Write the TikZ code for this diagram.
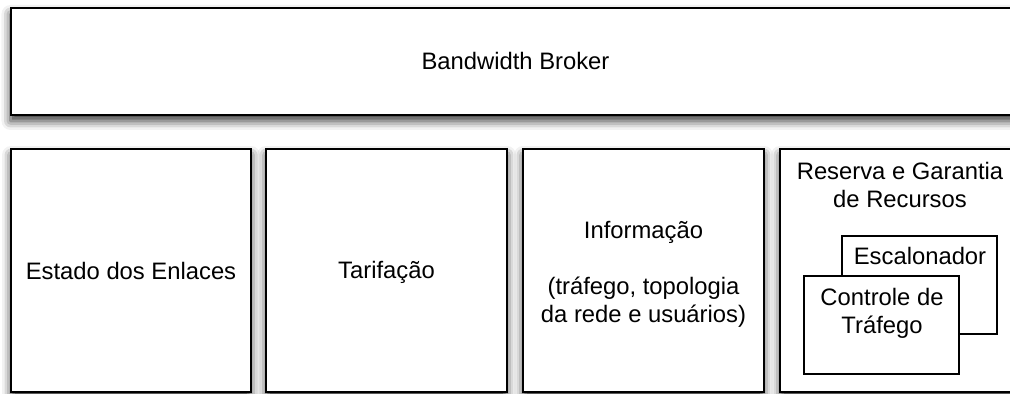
\documentclass[tikz,border=0pt]{standalone}
\usepackage{fontspec}
\setmainfont{Liberation Sans}
\usetikzlibrary{shadows.blur}
\begin{document}
\begin{tikzpicture}[x=0.5pt,y=-0.5pt,
  every node/.style={font=\fontsize{11.9}{14}\selectfont, align=center, inner sep=0pt},
  shbox/.style={draw=black, line width=1pt, fill=white,
    blur shadow={shadow xshift=0pt, shadow yshift=-3pt, shadow blur radius=4.5pt, shadow opacity=80}},
  inbox/.style={draw=black, line width=1pt, fill=white, minimum width=77.5pt, minimum height=49pt},
  txt/.style={}]
\useasboundingbox (0,0) rectangle (1010,394);
\begin{scope}
\clip (0,0) rectangle (1010,394);
\node[shbox, minimum width=505pt, minimum height=53.5pt] (bb) at (515.5,61.5) {Bandwidth Broker};
\node[shbox, minimum width=120pt, minimum height=121.5pt] (est) at (131,270.5) {Estado dos Enlaces};
\node[shbox, minimum width=120.5pt, minimum height=121.5pt] (tar) at (386.5,270.5) {};
\node[txt, anchor=base] (tartxt) at (386.5,279) {Tarifação};
\node[shbox, minimum width=120.5pt, minimum height=121.5pt] (inf) at (643.5,270.5) {};
\node[txt] (inftxt) at (643.5,274) {Informação\\ \mbox{}\\ (tráfego, topologia\\ da rede e usuários)};
\node[shbox, minimum width=120.5pt, minimum height=121.5pt] (res) at (900.5,270.5) {};
\node[txt, anchor=north] (restxt) at (900,162) {Reserva e Garantia\\ de Recursos};
\node[inbox] (esc) at (919.5,285) {};
\node[txt] (esctxt) at (920,256) {Escalonador};
\node[inbox] (ctl) at (881.5,325) {};
\node[txt] (ctltxt) at (882,313) {Controle de\\ Tráfego};
\end{scope}
\end{tikzpicture}
\end{document}
